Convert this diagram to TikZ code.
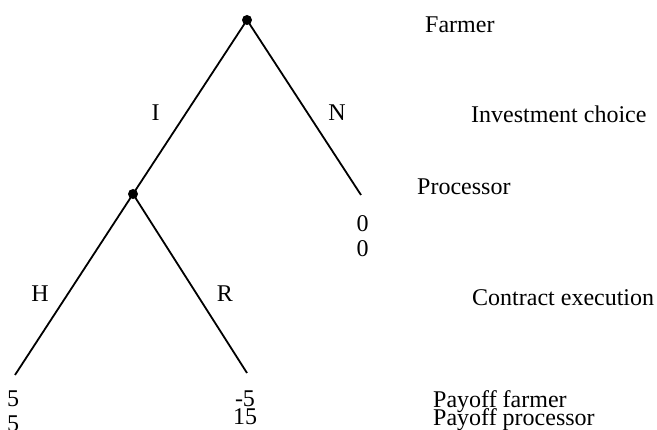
\documentclass[tikz,border=0pt]{standalone}
\usepackage{fontspec}
\setmainfont{Liberation Serif}
\usetikzlibrary{positioning}

\begin{document}
\begin{tikzpicture}[x=1pt, y=-1pt,
    every node/.style={font=\fontsize{24}{24}\selectfont, inner sep=0pt},
    decision/.style={circle, fill=black, minimum size=10pt},
    branch/.style={line width=1.8pt},
    payoff/.style={anchor=base}]
    \useasboundingbox (0,0) rectangle (657,430);
    % decision nodes and leaves
    \node[decision] (root) at (247,20) {};
    \node[decision] (proc) at (133,194) {};
    \coordinate (leafN) at (361,195);
    \coordinate (leafH) at (15,375);
    \coordinate (leafR) at (247,373);
    \draw[branch] (root.center) -- (proc.center);
    \draw[branch] (root.center) -- (leafN);
    \draw[branch] (proc.center) -- (leafH);
    \draw[branch] (proc.center) -- (leafR);
    % branch labels
    \node[anchor=base] (lblI) at (155.5,121) {I};
    \node[anchor=base] (lblN) at (337,121) {N};
    \node[anchor=base] (lblH) at (40,302) {H};
    \node[anchor=base] (lblR) at (225,302) {R};
    % payoffs
    \node[payoff] (payN1) at (362.5,232) {0};
    \node[payoff] (payN2) at (362.5,257) {0};
    \node[payoff] (payH1) at (13,407) {5};
    \node[payoff] (payH2) at (13,432) {5};
    \node[payoff] (payR1) at (245,407) {-5};
    \node[payoff] (payR2) at (245,425) {15};
    % legend on the right
    \node[anchor=base west] (farmer) at (425,33) {Farmer};
    \node[anchor=base west] (invest) at (471,123) {Investment choice};
    \node[anchor=base west] (processor) at (417,195) {Processor};
    \node[anchor=base west] (contract) at (472,306) {Contract execution};
    \node[anchor=base west] (payfarmer) at (433,408) {Payoff farmer};
    \node[anchor=base west] (payprocessor) at (433,426) {Payoff processor};
\end{tikzpicture}
\end{document}
